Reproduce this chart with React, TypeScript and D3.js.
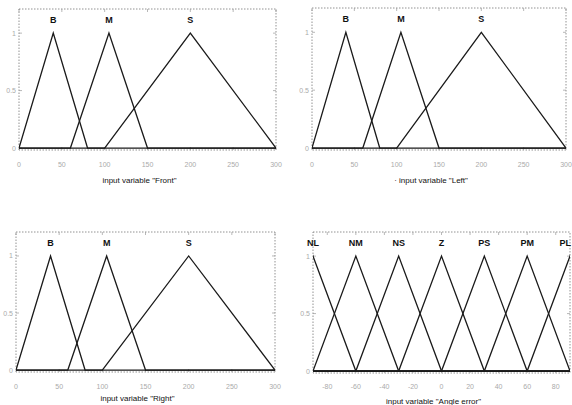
import React from 'react';
import * as d3 from 'd3';

// membership functions
const bmsLabels = ['B', 'M', 'S'];
const frontParams = [[0, 40, 80], [60, 105, 150], [100, 200, 300]];
const leftParams = [[0, 40, 80], [60, 105, 150], [100, 200, 300]];
const rightParams = [[0, 40, 80], [60, 105, 150], [100, 200, 300]];
const distTicks = [0, 50, 100, 150, 200, 250, 300];

const angleLabels = ['NL', 'NM', 'NS', 'Z', 'PS', 'PM', 'PL'];
const angleParams = [
  [-120, -90, -60], [-90, -60, -30], [-60, -30, 0], [-30, 0, 30],
  [0, 30, 60], [30, 60, 90], [60, 90, 120],
];
const angleTicks = [-80, -60, -40, -20, 0, 20, 40, 60, 80];

const yTicks = [0, 0.5, 1];
const yTickLabels = ['0', '0.5', '1'];

type PanelProps = {
  id: string;
  x: number; y: number; w: number; h: number;
  domain: [number, number];
  labels: string[];
  params: number[][];
  ticks: number[];
  title: string;
  titleY: number;
  tickY: number;
};

function Panel(p: PanelProps) {
  const xs = d3.scaleLinear().domain(p.domain).range([p.x, p.x + p.w]);
  const ys = d3.scaleLinear().domain([-0.017, 1.21]).range([p.y + p.h, p.y]);
  const line = d3.line<[number, number]>().x(d => xs(d[0])).y(d => ys(d[1]));
  const [lo, hi] = p.domain;

  return (
    <g>
      <defs>
        <clipPath id={p.id}>
          <rect x={p.x} y={p.y - 1} width={p.w} height={p.h + 2} />
        </clipPath>
      </defs>
      {/* frame */}
      <rect x={p.x} y={p.y} width={p.w} height={p.h} fill="none"
        stroke="#777" strokeWidth={0.8} strokeDasharray="1.5,1.5" />
      {/* ticks */}
      {p.ticks.map(t => (
        <g key={t}>
          <line x1={xs(t)} x2={xs(t)} y1={p.y + p.h} y2={p.y + p.h - 3} stroke="#999" strokeWidth={0.7} />
          <line x1={xs(t)} x2={xs(t)} y1={p.y} y2={p.y + 3} stroke="#999" strokeWidth={0.7} />
          <text x={xs(t)} y={p.tickY} fontSize={7} fill="#aaa" textAnchor="middle">{t}</text>
        </g>
      ))}
      {yTicks.map((t, i) => (
        <g key={t}>
          <line x1={p.x} x2={p.x + 3} y1={ys(t)} y2={ys(t)} stroke="#999" strokeWidth={0.7} />
          <line x1={p.x + p.w} x2={p.x + p.w - 3} y1={ys(t)} y2={ys(t)} stroke="#999" strokeWidth={0.7} />
          <text x={p.x - 3} y={ys(t) + 2.5} fontSize={7} fill="#aaa" textAnchor="end">{yTickLabels[i]}</text>
        </g>
      ))}
      {/* membership functions */}
      <g clipPath={`url(#${p.id})`}>
        {p.params.map((m, i) => {
          const pts: [number, number][] = [
            [Math.min(lo, m[0]), 0], [m[0], 0], [m[1], 1], [m[2], 0], [Math.max(hi, m[2]), 0],
          ];
          return <path key={i} d={line(pts) || ''} fill="none" stroke="#1a1a1a" strokeWidth={1.3} />;
        })}
      </g>
      {p.params.map((m, i) => {
        const px = xs(m[1]);
        // keep the last label inside the page when it sits on the right edge
        const atEdge = px + 8 > 572;
        return (
          <text key={i} x={atEdge ? 571 : px} y={ys(1) - 10} fontSize={9} fontWeight="bold"
            textAnchor={atEdge ? 'end' : 'middle'} fill="#111">{p.labels[i]}</text>
        );
      })}
      <text x={p.x + p.w / 2 - 8} y={p.titleY} fontSize={8} textAnchor="middle" fill="#111">{p.title}</text>
    </g>
  );
}

export default function App() {
  return (
    <svg width={572} height={405} style={{ position: 'absolute', left: 0, top: 0, background: '#fff' }}
      fontFamily="'Liberation Sans', Arial, sans-serif">
      <rect width={572} height={405} fill="#fff" />
      <Panel id="c1" x={19} y={9} w={257} h={141} domain={[0, 300]} labels={bmsLabels}
        params={frontParams} ticks={distTicks} title={'input variable "Front"'} titleY={183} tickY={167} />
      <Panel id="c2" x={312} y={8} w={254} h={142} domain={[0, 300]} labels={bmsLabels}
        params={leftParams} ticks={distTicks} title={'· input variable "Left"'} titleY={183} tickY={167} />
      <Panel id="c3" x={16} y={232} w={259} h={140} domain={[0, 300]} labels={bmsLabels}
        params={rightParams} ticks={distTicks} title={'input variable "Right"'} titleY={401} tickY={389} />
      <Panel id="c4" x={313} y={232} w={257} h={141} domain={[-90, 90]} labels={angleLabels}
        params={angleParams} ticks={angleTicks} title={'input variable "Angle error"'} titleY={404} tickY={389} />
    </svg>
  );
}
